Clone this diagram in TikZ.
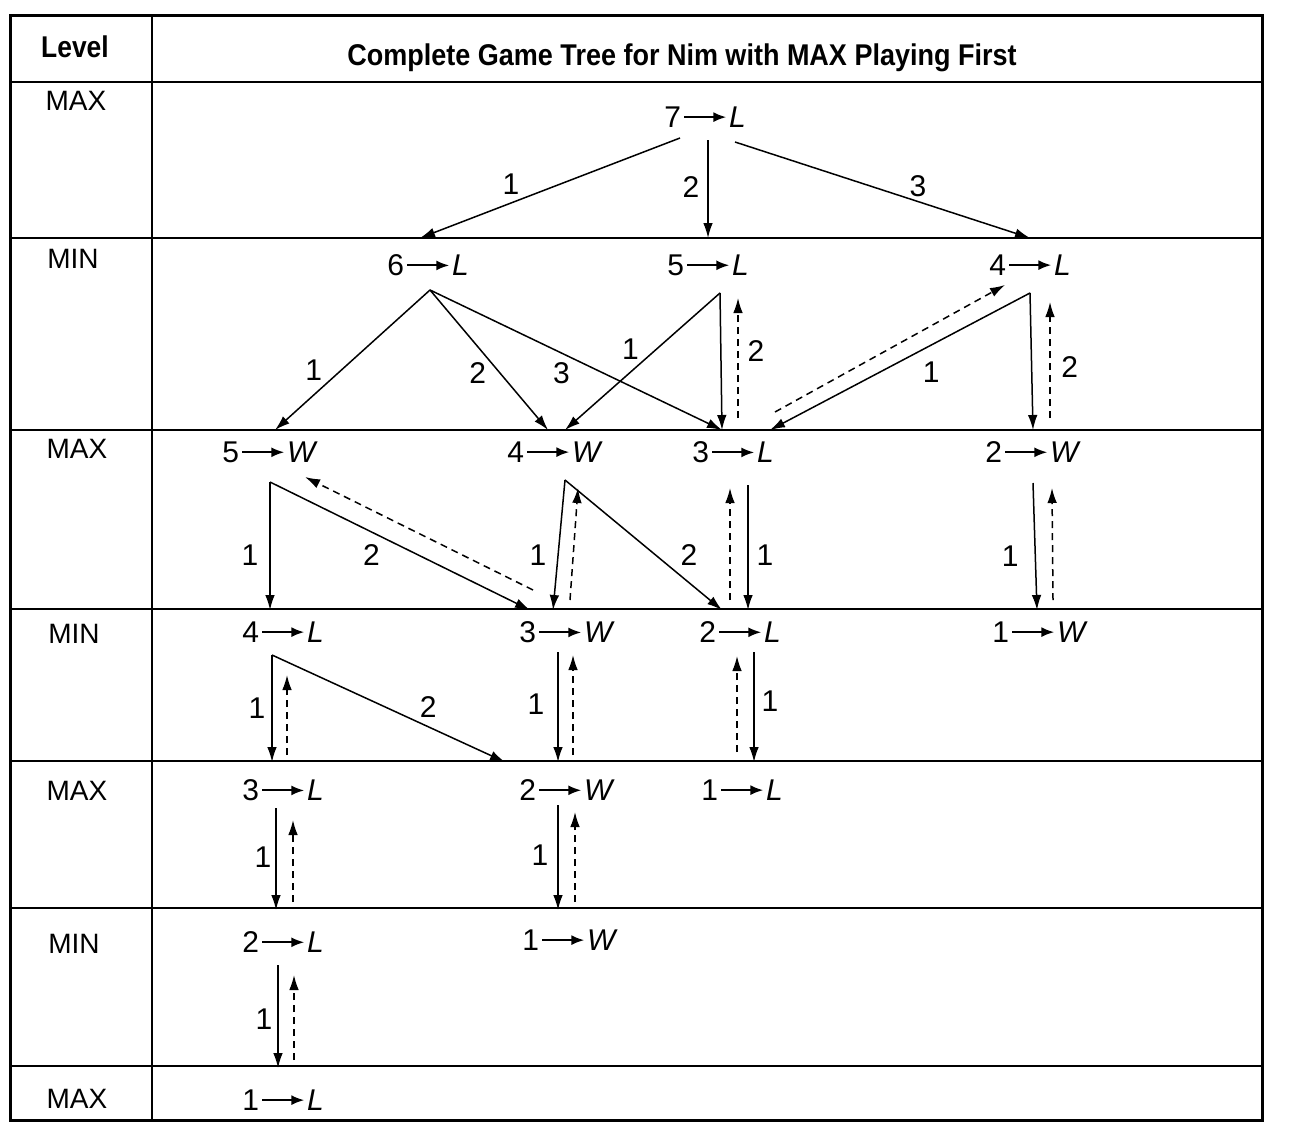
\documentclass[tikz,border=0pt]{standalone}
\usepackage{fontspec}
\setmainfont{Liberation Sans}
\usetikzlibrary{arrows.meta}
\newcommand\gn[2]{#1\hspace{24pt}\textit{#2}}
\begin{document}
\begin{tikzpicture}[x=0.5pt,y=-0.5pt,
  st/.style={inner sep=0pt,font=\fontsize{15}{17}\selectfont,
    path picture={\draw[line width=1pt,-{Latex[length=6.5pt,width=5pt]}]
      ([xshift=10pt,yshift=5.1pt]path picture bounding box.south west) -- ++(21pt,0pt);}},
  lvl/.style={inner sep=0pt,font=\fontsize{14}{16}\selectfont},
  hd/.style={inner sep=0pt,font=\fontsize{15}{17}\selectfont\bfseries},
  lb/.style={inner sep=0pt,font=\fontsize{15}{17}\selectfont},
  solidarr/.style={line width=0.75pt,-{Latex[length=7.5pt,width=4.8pt]}},
  backarr/.style={solidarr,dash pattern=on 3.5pt off 2.5pt},
  outerline/.style={line width=1.5pt},
  innerline/.style={line width=0.65pt}]
\useasboundingbox[fill=white] (0,0) rectangle (1289,1124);
% table
\draw[outerline] (10,15) rectangle (1262,1120);
\draw[innerline] (152,15) -- (152,1120);
\foreach \yy in {82,238,430,609,761,908,1066}
  \draw[innerline] (10,\yy) -- (1262,\yy);
% headers
\node[hd] (hlevel) at (75,47) {\scalebox{0.88}[1]{Level}};
\node[hd] (htitle) at (682,58) {\scalebox{0.9}[1]{Complete Game Tree for Nim with MAX Playing First}};
\node[lvl] (l1) at (76,101) {MAX};
\node[lvl] (l2) at (73,259) {MIN};
\node[lvl] (l3) at (77,449) {MAX};
\node[lvl] (l4) at (74,634) {MIN};
\node[lvl] (l5) at (77,791) {MAX};
\node[lvl] (l6) at (74,944) {MIN};
\node[lvl] (l7) at (77,1099) {MAX};
% game states
\node[st] (n7) at (705,117) {\gn{7}{L}};
\node[st] (n6) at (428,265) {\gn{6}{L}};
\node[st] (n5) at (708,265) {\gn{5}{L}};
\node[st] (n4) at (1030,265) {\gn{4}{L}};
\node[st] (a5) at (270,452) {\gn{5}{W}};
\node[st] (a4) at (555,452) {\gn{4}{W}};
\node[st] (a3) at (733,452) {\gn{3}{L}};
\node[st] (a2) at (1033,452) {\gn{2}{W}};
\node[st] (b4) at (283,632) {\gn{4}{L}};
\node[st] (b3) at (567,632) {\gn{3}{W}};
\node[st] (b2) at (740,632) {\gn{2}{L}};
\node[st] (b1) at (1040,632) {\gn{1}{W}};
\node[st] (c3) at (283,790) {\gn{3}{L}};
\node[st] (c2) at (567,790) {\gn{2}{W}};
\node[st] (c1) at (742,790) {\gn{1}{L}};
\node[st] (d2) at (283,942) {\gn{2}{L}};
\node[st] (d1) at (570,940) {\gn{1}{W}};
\node[st] (e1) at (283,1100) {\gn{1}{L}};
% level 1 -> 2
\draw[solidarr] ([shift={(-25,21)}]n7.center) -- ([shift={(-8,-27)}]n6.center) node[lb,pos=.65,shift={(0,-19)}] {1};
\draw[solidarr] ([shift={(3,23)}]n7.center) -- ([shift={(0,-27)}]n5.center) node[lb,pos=.48,shift={(-17,0)}] {2};
\draw[solidarr] ([shift={(30,25)}]n7.center) -- ([shift={(0,-27)}]n4.center) node[lb,pos=.62,shift={(0,-15)}] {3};
% level 2 -> 3
\draw[solidarr] ([shift={(2,25)}]n6.center) -- ([shift={(5,-22)}]a5.center) node[lb,pos=.57,shift={(-28,0)}] {1};
\draw[solidarr] ([shift={(2,25)}]n6.center) -- ([shift={(-7,-22)}]a4.center) node[lb,pos=.59,shift={(-22,0)}] {2};
\draw[solidarr] ([shift={(2,25)}]n6.center) -- ([shift={(-11,-22)}]a3.center) node[lb,pos=.45,shift={(0,20)}] {3};
\draw[solidarr] ([shift={(12,28)}]n5.center) -- ([shift={(10,-22)}]a4.center) node[lb,pos=.41,shift={(-26,0)}] {1};
\draw[solidarr] ([shift={(12,28)}]n5.center) -- ([shift={(-11,-22)}]a3.center) node[lb,pos=.42,shift={(35,0)}] {2};
\draw[backarr] ([shift={(5,-34)}]a3.center) -- ([shift={(30,33)}]n5.center);
\draw[solidarr] ([shift={(0,28)}]n4.center) -- ([shift={(37,-22)}]a3.center) node[lb,pos=.38,shift={(0,27)}] {1};
\draw[backarr] ([shift={(42,-40)}]a3.center) -- ([shift={(-25,20)}]n4.center);
\draw[solidarr] ([shift={(0,28)}]n4.center) -- ([shift={(0,-22)}]a2.center) node[lb,pos=.54,shift={(38,0)}] {2};
\draw[backarr] ([shift={(17,-34)}]a2.center) -- ([shift={(20,37)}]n4.center);
% level 3 -> 4
\draw[solidarr] ([shift={(0,30)}]a5.center) -- ([shift={(-13,-22)}]b4.center) node[lb,pos=.57,shift={(-20,0)}] {1};
\draw[solidarr] ([shift={(0,30)}]a5.center) -- ([shift={(-37,-22)}]b3.center) node[lb,pos=.39,shift={(0,23)}] {2};
\draw[backarr] ([shift={(-34,-42)}]b3.center) -- ([shift={(35,25)}]a5.center);
\draw[solidarr] ([shift={(10,28)}]a4.center) -- ([shift={(-14,-22)}]b3.center) node[lb,pos=.58,shift={(-20,0)}] {1};
\draw[backarr] ([shift={(3,-32)}]b3.center) -- ([shift={(23,36)}]a4.center);
\draw[solidarr] ([shift={(10,28)}]a4.center) -- ([shift={(-18,-22)}]b2.center) node[lb,pos=.58,shift={(33,0)}] {2};
\draw[solidarr] ([shift={(15,33)}]a3.center) -- ([shift={(8,-22)}]b2.center) node[lb,pos=.56,shift={(17,0)}] {1};
\draw[backarr] ([shift={(-10,-32)}]b2.center) -- ([shift={(-3,36)}]a3.center);
\draw[solidarr] ([shift={(0,31)}]a2.center) -- ([shift={(-3,-22)}]b1.center) node[lb,pos=.58,shift={(-25,0)}] {1};
\draw[backarr] ([shift={(13,-32)}]b1.center) -- ([shift={(19,36)}]a2.center);
% level 4 -> 5
\draw[solidarr] ([shift={(-11,23)}]b4.center) -- ([shift={(-11,-28)}]c3.center) node[lb,pos=.5,shift={(-15,0)}] {1};
\draw[backarr] ([shift={(4,-35)}]c3.center) -- ([shift={(4,43)}]b4.center);
\draw[solidarr] ([shift={(-11,23)}]b4.center) -- ([shift={(-62,-28)}]c2.center) node[lb,pos=.67,shift={(0,-20)}] {2};
\draw[solidarr] ([shift={(-9,20)}]b3.center) -- ([shift={(-9,-28)}]c2.center) node[lb,pos=.47,shift={(-22,0)}] {1};
\draw[backarr] ([shift={(6,-35)}]c2.center) -- ([shift={(6,23)}]b3.center);
\draw[solidarr] ([shift={(14,20)}]b2.center) -- ([shift={(12,-28)}]c1.center) node[lb,pos=.45,shift={(16,0)}] {1};
\draw[backarr] ([shift={(-5,-38)}]c1.center) -- ([shift={(-3,24)}]b2.center);
% level 5 -> 6
\draw[solidarr] ([shift={(-7,18)}]c3.center) -- ([shift={(-7,-32)}]d2.center) node[lb,pos=.48,shift={(-13,0)}] {1};
\draw[backarr] ([shift={(10,-40)}]d2.center) -- ([shift={(10,30)}]c3.center);
\draw[solidarr] ([shift={(-9,15)}]c2.center) -- ([shift={(-12,-30)}]d1.center) node[lb,pos=.48,shift={(-18,0)}] {1};
\draw[backarr] ([shift={(5,-38)}]d1.center) -- ([shift={(8,22)}]c2.center);
% level 6 -> 7
\draw[solidarr] ([shift={(-5,23)}]d2.center) -- ([shift={(-5,-32)}]e1.center) node[lb,pos=.53,shift={(-14,0)}] {1};
\draw[backarr] ([shift={(11,-40)}]e1.center) -- ([shift={(11,33)}]d2.center);
\end{tikzpicture}
\end{document}
